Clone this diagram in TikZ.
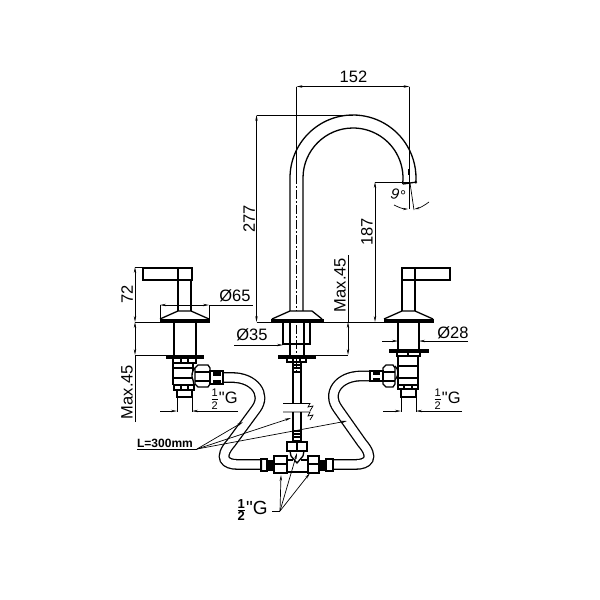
\documentclass[tikz,border=0pt]{standalone}
\usepackage{fontspec}
\setmainfont{Liberation Sans}
\newfontfamily\plainfont{Liberation Sans}
\usetikzlibrary{arrows.meta}

\newcommand{\halfG}{$\frac{\hbox{\fontsize{11}{11}\selectfont 1}}{\hbox{\fontsize{11}{11}\selectfont 2}}$\plainfont"G}
\newcommand{\bighalfG}{$\frac{\hbox{\bfseries\fontsize{13}{13}\selectfont 1}}{\hbox{\bfseries\fontsize{13}{13}\selectfont 2}}$\plainfont"G}

\tikzset{
	outl/.style={line width=1.3pt},
	thn/.style={line width=.7pt},
	dimline/.style={line width=.7pt, {Stealth[length=6pt,width=2.4pt]}-{Stealth[length=6pt,width=2.4pt]}},
	lead/.style={line width=.7pt, -{Stealth[length=6pt,width=2.4pt]}},
	plate/.style={fill=black, draw=black, line width=.5pt},
	tube/.style={line width=1.3pt, double=white, double distance=8.2pt},
	axisline/.style={line width=.7pt, dash pattern=on 9pt off 2pt on 2pt off 2pt},
	lbl/.style={inner sep=0pt, font=\fontsize{16.5}{16.5}\selectfont}
}

\begin{document}
\begin{tikzpicture}[x=1pt, y=-1pt]
	\useasboundingbox (0,0) rectangle (600,600);

	% flexible tubes
	\draw[tube] (222,377.5) -- (232,377.5) .. controls (254,377.5) and (267,394) .. (256,409)
		-- (231,443) .. controls (218,458) and (225,464.5) .. (238,464.5) -- (262,464.5);
	\draw[tube] (370,376) -- (361,376) .. controls (339,376) and (326,393) .. (338,409)
		-- (362,443) .. controls (375,458) and (368,464.5) .. (355,464.5) -- (333,464.5);

	% spout
	\draw[outl] (290,312) -- (290,178) arc (180:365:63);
	\draw[outl] (303,312) -- (303,178) arc (180:367:50);
	\draw[outl] (403,184) -- (417,182);
	\draw[thn] (408,169) -- (408,175);
	\draw[axisline] (296.5,175) -- (296.5,372);

	% centre base
	\draw[outl, fill=white] (272,319) -- (290,311) -- (312,311) -- (322,319);
	\draw[plate] (271,319) rectangle (323,322);
	\draw[outl] (283,322) -- (283,344) -- (310,344) -- (310,322);
	\draw[outl] (290,322) -- (290,355);
	\draw[outl] (304,322) -- (304,355);
	\draw[plate] (278,355.5) rectangle (315,358);
	\draw[outl] (287,358) -- (287,362) -- (306,362) -- (306,358);
	\draw[outl] (293,358) -- (293,362);
	\draw[outl] (300,358) -- (300,362);
	\draw[outl] (293,362) rectangle (301,372);
	\draw[outl] (293,365) -- (301,365);
	\draw[outl] (293,368) -- (301,368);
	\draw[outl] (293,372) -- (293,403);
	\draw[outl] (301,372) -- (301,403);
	\draw[thn] (283,403.5) -- (310,403.5) -- (308,407) -- (313,406) -- (310,411);
	\draw[thn] (283,412) -- (310,412) -- (308,416) -- (313,415) -- (310,420);
	\draw[outl] (293,412) -- (293,431);
	\draw[outl] (301,412) -- (301,431);
	\draw[outl] (293,431) rectangle (301,441);
	\draw[outl] (293,434) -- (301,434);
	\draw[outl] (293,437) -- (301,437);

	% mixer body
	\draw[outl] (287,442) rectangle (307,451);
	\draw[outl] (297,442) -- (297,451);
	\draw[outl] (290,451) -- (291,456) -- (297,463) -- (303,456) -- (304,451);
	\draw[outl] (287,460) -- (293,460);
	\draw[outl] (301,460) -- (308,460);
	\draw[outl] (287,472) -- (308,472);
	\draw[outl] (274,456) rectangle (287,473);
	\draw[outl] (274,464) -- (287,464);
	\draw[outl] (308,456) rectangle (319,473);
	\draw[outl] (308,464) -- (319,464);
	\draw[plate] (268,460) rectangle (274,470);
	\draw[outl] (261,459) rectangle (267,471);
	\draw[plate] (319,460) rectangle (325,470);
	\draw[outl] (326,459) rectangle (333,471);

	% left lever valve
	\draw[outl] (143,268) rectangle (192,280);
	\draw[outl] (178,268) -- (178,280);
	\draw[outl] (178,280) -- (178,311);
	\draw[outl] (191,280) -- (191,311);
	\draw[outl, fill=white] (160,319) -- (178,311) -- (191,311) -- (209,319);
	\draw[plate] (160,319) rectangle (209,322);
	\draw[outl] (174,322) -- (174,355);
	\draw[outl] (196,322) -- (196,355);
	\draw[plate] (166,355) rectangle (203,358);
	\draw[outl] (173,358) rectangle (196,363);
	\draw[outl] (181,358) -- (181,363);
	\draw[outl] (188,358) -- (188,363);
	\draw[outl] (173,363) -- (173,385);
	\draw[outl] (193,363) -- (193,371);
	\draw[outl] (173,368) -- (193,368);
	\draw[outl] (173,378) -- (193,378);
	\draw[outl] (174,385) rectangle (194,390);
	\draw[outl] (181,385) -- (181,390);
	\draw[outl] (188,385) -- (188,390);
	\draw[outl] (177,390) -- (177,397) -- (192,397) -- (192,390);
	\draw[outl] (194,385) -- (193,380) .. controls (191,376) and (192,371) .. (195,368);
	\draw[outl, fill=white] (195,368) -- (198,365) -- (208,365) -- (210,368) -- (210,384) -- (208,387) -- (198,387) -- (195,384) -- cycle;
	\draw[outl] (195,372) -- (210,372);
	\draw[outl] (195,381) -- (210,381);
	\draw[outl, fill=white] (210,371) rectangle (223,384);
	\draw[plate] (213,371) rectangle (220,375);
	\draw[plate] (213,380) rectangle (220,384);

	% right lever valve
	\draw[outl] (402,268) rectangle (450,280);
	\draw[outl] (415,268) -- (415,280);
	\draw[outl] (402,280) -- (402,311);
	\draw[outl] (415,280) -- (415,311);
	\draw[outl, fill=white] (384,319) -- (402,311) -- (415,311) -- (433,319);
	\draw[plate] (384,319) rectangle (433,322);
	\draw[outl] (398,322) -- (398,349);
	\draw[outl] (419,322) -- (419,349);
	\draw[plate] (389,349) rectangle (428,352);
	\draw[outl] (397,352) rectangle (420,356);
	\draw[outl] (408,352) -- (408,356);
	\draw[outl] (398,356) -- (398,385);
	\draw[outl] (418,356) -- (418,385);
	\draw[outl] (398,366) -- (418,366);
	\draw[outl] (398,378) -- (418,378);
	\draw[outl] (398,385) rectangle (418,389);
	\draw[outl] (404,385) -- (404,389);
	\draw[outl] (412,385) -- (412,389);
	\draw[outl] (401,389) -- (401,397) -- (416,397) -- (416,389);
	\draw[outl] (395,366) .. controls (399,370) and (399,375) .. (395,380);
	\draw[outl, fill=white] (383,368) -- (386,365) -- (393,365) -- (395,368) -- (395,384) -- (393,387) -- (386,387) -- (383,384) -- cycle;
	\draw[outl] (383,372) -- (395,372);
	\draw[outl] (383,381) -- (395,381);
	\draw[outl, fill=white] (370,371) rectangle (383,381);
	\draw[plate] (373,371) rectangle (379,374);
	\draw[plate] (373,378) rectangle (379,381);

	% spout dimensions
	\node[lbl] (lenA) at (353.5,77) {152};
	\coordinate (lenAl) at (296.5,86.5);
	\coordinate (lenAr) at (409.5,86.5);
	\draw[dimline] (lenAl) -- (lenAr);
	\draw[thn] (lenAl) -- (296.5,175);
	\draw[thn] (lenAr) -- (409.5,209);
	\draw[thn] (410,183) -- (414,210);
	\node[lbl, rotate=-9, font=\fontsize{15}{15}\selectfont\itshape] (tilt) at (398,195) {9°};
	\draw[thn, -{Stealth[length=5pt,width=2.2pt]}] (394,205) .. controls (398,207) and (403,209) .. (408,209);
	\draw[thn, -{Stealth[length=5pt,width=2.2pt]}] (429,202) .. controls (425,205) and (420,208) .. (414.5,209);

	\node[lbl, rotate=90] (heightA) at (249,219) {277};
	\coordinate (heightAt) at (256.5,115);
	\coordinate (baseL) at (256.5,322);
	\draw[dimline] (heightAt) -- (baseL);
	\draw[thn] (heightAt) -- (353,115);
	\draw[thn] (baseL) -- (385,322);

	\node[lbl, rotate=90] (heightB) at (367,232) {187};
	\coordinate (heightBt) at (375,182);
	\coordinate (heightBb) at (375,322);
	\draw[dimline] (heightBt) -- (heightBb);
	\draw[thn] (heightBt) -- (410,182);

	\node[lbl, rotate=90] (maxA) at (340,285) {Max.45};
	\draw[thn] (348,255) -- (348,322);
	\draw[dimline] (348,322) -- (348,355);
	\draw[thn] (316,355) -- (348,355);

	% left dimensions
	\node[lbl, rotate=90] (lenB) at (127,294) {72};
	\draw[dimline] (135,267) -- (135,322);
	\draw[dimline] (135,322) -- (135,355);
	\draw[thn] (135,422) -- (135,355) -- (204,355);
	\draw[thn] (135,322) -- (209,322);
	\draw[thn] (135,267) -- (143,267);
	\node[lbl, rotate=90] (maxB) at (127,392) {Max.45};

	\node[lbl] (diaA) at (235,296) {Ø65};
	\draw[thn] (160,305) -- (160,320);
	\draw[thn] (209,305) -- (209,320);
	\draw[thn] (209,305) -- (253,305);
	\draw[dimline] (160,305) -- (209,305);

	\node[lbl] (diaB) at (252,335) {Ø35};
	\draw[lead] (234,345) -- (283,345);

	\node[lbl] (diaC) at (453,333) {Ø28};
	\draw[lead] (382,341) -- (398,341);
	\draw[lead] (468,341) -- (419,341);

	% thread dimensions
	\node[lbl] (threadA) at (224,399) {\halfG};
	\draw[thn] (177,397) -- (177,412);
	\draw[thn] (192,397) -- (192,412);
	\draw[lead] (160,411) -- (177,411);
	\draw[lead] (238,411) -- (192,411);

	\node[lbl] (threadB) at (447,399) {\halfG};
	\draw[thn] (401,397) -- (401,412);
	\draw[thn] (416,397) -- (416,412);
	\draw[lead] (383,411) -- (401,411);
	\draw[lead] (462,411) -- (416,411);

	% tube length
	\node[inner sep=0pt, font=\bfseries\fontsize{12}{12}\selectfont] (tubelen) at (165,443) {L=300mm};
	\coordinate (tubejoin) at (197,449);
	\draw[thn] (137,449) -- (tubejoin);
	\draw[lead] (tubejoin) -- (243,422);
	\draw[lead] (tubejoin) -- (291,418);
	\draw[lead] (tubejoin) -- (347,421);

	% mixer thread
	\node[inner sep=0pt, font=\fontsize{19}{19}\selectfont] (threadC) at (252,510) {\bighalfG};
	\coordinate (threadjoin) at (280,511);
	\draw[thn] (272,511) -- (threadjoin);
	\draw[lead] (threadjoin) -- (281,475);
	\draw[lead] (threadjoin) -- (297,453);
	\draw[lead] (threadjoin) -- (310,473);

\end{tikzpicture}
\end{document}
